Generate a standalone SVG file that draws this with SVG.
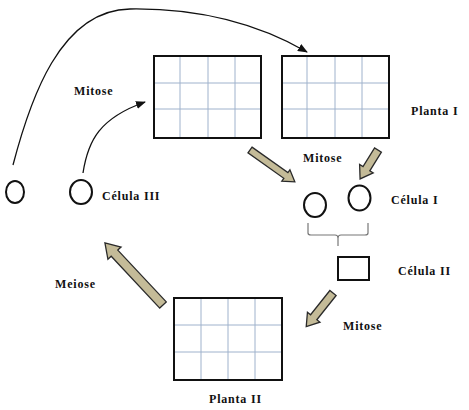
<svg xmlns="http://www.w3.org/2000/svg" width="469" height="410" viewBox="0 0 469 410">
<style>
.lbl{font-family:"Liberation Serif","Times New Roman",serif;font-weight:bold;font-size:12px;letter-spacing:0.8px;fill:#111}
.box{fill:#fff;stroke:#111;stroke-width:2}
.grid{stroke:#9fb2cc;stroke-width:1;fill:none}
.cell{fill:#fff;stroke:#111;stroke-width:2}
.fat{fill:#c4bb98;stroke:#2a2a2a;stroke-width:1.3;stroke-linejoin:miter}
.thin{fill:none;stroke:#111;stroke-width:1.3}
</style>
<defs>
<marker id="ah" markerWidth="10" markerHeight="8" refX="9" refY="4" orient="auto" markerUnits="userSpaceOnUse">
<path d="M0,0 L10,4 L0,8 Z" fill="#111"/>
</marker>
</defs>
<rect width="469" height="410" fill="#fff"/>

<g id="planta1a">
<rect class="box" x="154" y="56" width="107" height="82"/>
<path class="grid" d="M180,57V137M208,57V137M235,57V137M155,83H260M155,109H260"/>
</g>
<g id="planta1b">
<rect class="box" x="282" y="56" width="107" height="82"/>
<path class="grid" d="M307,57V137M335,57V137M362,57V137M283,83H388M283,109H388"/>
</g>
<g id="planta2">
<rect class="box" x="174" y="298" width="108" height="82"/>
<path class="grid" d="M201,299V379M228,299V379M255,299V379M175,325H281M175,352H281"/>
</g>

<g id="celula-a"><ellipse class="cell" cx="15" cy="192" rx="9" ry="11"/></g>
<g id="celula3"><ellipse class="cell" cx="81" cy="192" rx="11" ry="12"/></g>
<g id="celula1a"><ellipse class="cell" cx="315" cy="205" rx="11" ry="12"/></g>
<g id="celula1b"><ellipse class="cell" cx="359.5" cy="198" rx="11" ry="12.5"/></g>
<g id="celula2"><rect class="cell" x="338" y="257" width="31" height="23"/></g>

<g id="connectors">
<path class="thin" d="M13,165 C30,100 60,10 130,9 C200,8 260,25 307,52" marker-end="url(#ah)"/>
<path class="thin" d="M83,173 C88,140 100,118 145,102" marker-end="url(#ah)"/>
<path d="M308,223 V233 Q308,235 311,235 H335 Q338,235 338,238 V246 M338,238 Q338,235 341,235 H365 Q368,235 368,233 V223" fill="none" stroke="#777" stroke-width="1.2"/>
<g transform="translate(250,150) rotate(35.4)">
<path class="fat" d="M0,-3.5 L44,-3.5 L44,-7 L55,0 L44,7 L44,3.5 L0,3.5 Z"/>
</g>
<g transform="translate(378,150) rotate(121.8)">
<path class="fat" d="M0,-4 L22,-4 L22,-8 L34,0 L22,8 L22,4 L0,4 Z"/>
</g>
<g transform="translate(163,305) rotate(226.9)">
<path class="fat" d="M0,-4.5 L71,-4.5 L71,-9 L85,0 L71,9 L71,4.5 L0,4.5 Z"/>
</g>
<g transform="translate(333,293) rotate(128.5)">
<path class="fat" d="M0,-4 L31,-4 L31,-8 L43,0 L31,8 L31,4 L0,4 Z"/>
</g>
</g>

<g id="labels">
<text class="lbl" x="74" y="95">Mitose</text>
<text class="lbl" x="411" y="115">Planta I</text>
<text class="lbl" x="303" y="162">Mitose</text>
<text class="lbl" x="102" y="200">Célula III</text>
<text class="lbl" x="391" y="204">Célula I</text>
<text class="lbl" x="398" y="275">Célula II</text>
<text class="lbl" x="55" y="288">Meiose</text>
<text class="lbl" x="343" y="330">Mitose</text>
<text class="lbl" x="209" y="403">Planta II</text>
</g>
</svg>
